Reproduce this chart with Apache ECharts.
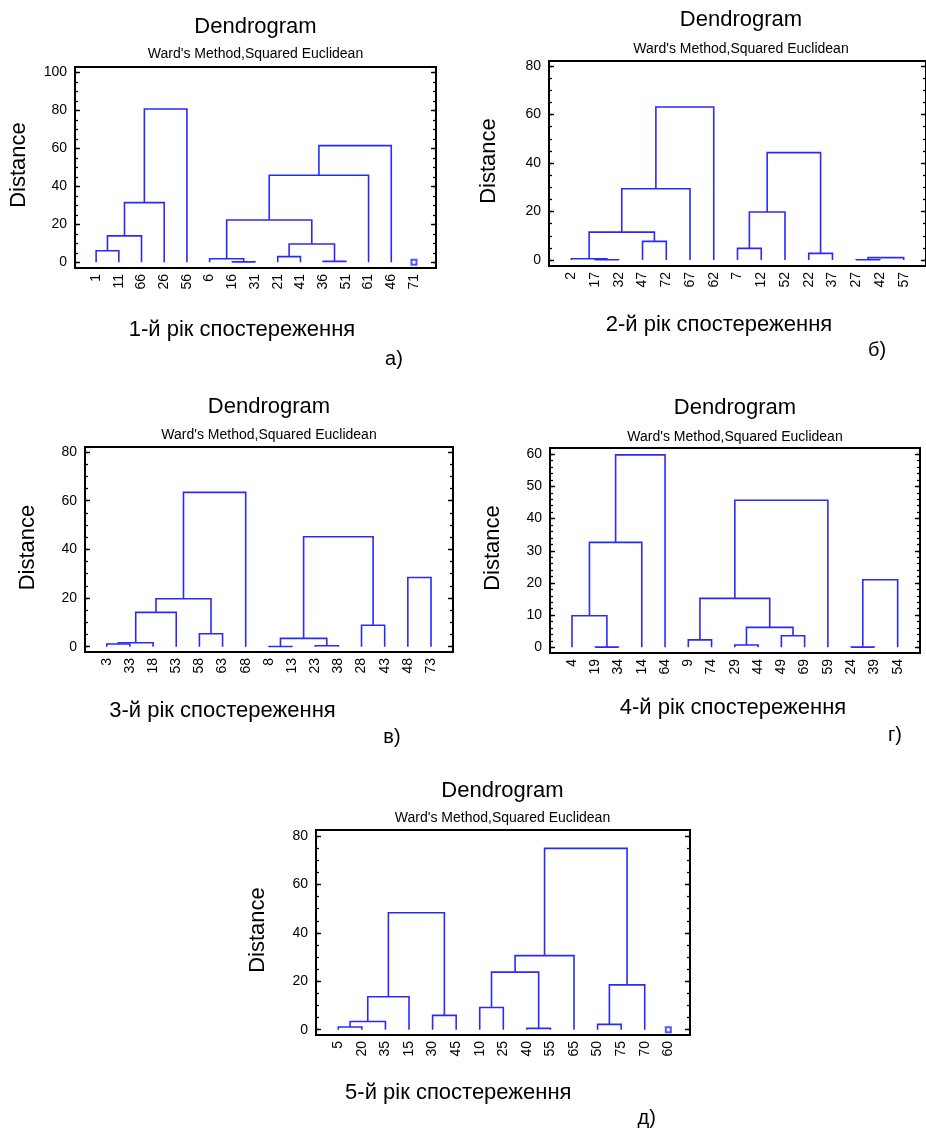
<!DOCTYPE html>
<html><head><meta charset="utf-8">
<script src="https://cdn.jsdelivr.net/npm/echarts@6/dist/echarts.min.js"></script>
<style>html,body{margin:0;padding:0;background:#fff}#c{width:926px;height:1128px}</style>
</head><body><div id="c"></div><script>
// ---------- DATA ----------
// merges: [childA, childB, distance]; ids 0..n-1 are leaves (in display order), then n, n+1, ... are merges in list order
const leavesA = ['1','11','66','26','56','6','16','31','21','41','36','51','61','46','71'];
const mergesA = [[0,1,6.1],[15,2,13.9],[16,3,31.4],[17,4,80.7],[6,7,0.2],[5,19,1.9],[8,9,3.0],[10,11,0.5],[21,22,9.6],[20,23,22.3],[24,12,45.8],[25,13,61.4]];
const singlesA = [14];
const yTicksA = [0,20,40,60,80,100];

const leavesB = ['2','17','32','47','72','67','62','7','12','52','22','37','27','42','57'];
const mergesB = [[1,2,0.1],[0,15,0.55],[3,4,7.7],[16,17,11.5],[18,5,29.4],[19,6,63.1],[7,8,4.8],[21,9,19.8],[10,11,2.75],[22,23,44.3],[12,13,0.1],[25,14,1.0]];
const singlesB = [];
const yTicksB = [0,20,40,60,80];

const leavesC = ['3','33','18','53','58','63','68','8','13','23','38','28','43','48','73'];
const mergesC = [[0,1,1.1],[15,2,1.6],[16,3,14.1],[4,5,5.3],[17,18,19.7],[19,6,63.4],[7,8,0.05],[9,10,0.4],[21,22,3.4],[11,12,8.8],[23,24,45.2],[13,14,28.4]];
const singlesC = [];
const yTicksC = [0,20,40,60,80];

const leavesD = ['4','19','34','14','64','9','74','29','44','49','69','59','24','39','54'];
const mergesD = [[1,2,0.05],[0,15,9.8],[16,3,32.6],[17,4,59.8],[5,6,2.3],[7,8,0.7],[9,10,3.6],[20,21,6.2],[19,22,15.2],[23,11,45.7],[12,13,0.05],[25,14,21.0]];
const singlesD = [];
const yTicksD = [0,10,20,30,40,50,60];

const leavesE = ['5','20','35','15','30','45','10','25','40','55','65','50','75','70','60'];
const mergesE = [[0,1,1.1],[15,2,3.4],[16,3,13.6],[4,5,5.9],[17,18,48.3],[6,7,9.2],[8,9,0.55],[20,21,23.8],[22,10,30.6],[11,12,2.2],[24,13,18.5],[23,25,74.9]];
const singlesE = [14];
const yTicksE = [0,20,40,60,80];

const titleText = 'Dendrogram';
const subText = "Ward's Method,Squared Euclidean";
const yName = 'Distance';
const xNames = ['1-й рік спостереження','2-й рік спостереження','3-й рік спостереження','4-й рік спостереження','5-й рік спостереження'];
const tags = ['а)','б)','в)','г)','д)'];

// ---------- LAYOUT / STYLE ----------
const LINE = '#2a2aff';
const FONT = '"Liberation Sans", Arial, sans-serif';
const panels = [
  {leaves:leavesA, merges:mergesA, singles:singlesA, ticks:yTicksA, minor:5,
   grid:{left:75, top:67, width:361, height:201}, yMin:-3.0, yMax:102.8, xMin:-0.93, xMax:14.97,
   title:[255.5,27], sub:[255.5,54], dist:[18.5,165], xname:[242,330], tag:[394,359]},
  {leaves:leavesB, merges:mergesB, singles:singlesB, ticks:yTicksB, minor:5,
   grid:{left:549, top:61, width:384, height:205}, yMin:-2.47, yMax:82.1, xMin:-0.94, xMax:14.94,
   title:[741,20], sub:[741,49], dist:[489,161], xname:[719,325], tag:[877,350]},
  {leaves:leavesC, merges:mergesC, singles:singlesC, ticks:yTicksC, minor:5,
   grid:{left:85, top:447, width:368, height:205}, yMin:-2.18, yMax:82.05, xMin:-0.94, xMax:14.95,
   title:[269,407], sub:[269,435], dist:[28,547.5], xname:[222.5,710.7], tag:[392,737]},
  {leaves:leavesD, merges:mergesD, singles:singlesD, ticks:yTicksD, minor:2,
   grid:{left:550, top:448, width:370, height:205}, yMin:-1.77, yMax:61.95, xMin:-0.946, xMax:14.96,
   title:[735,408], sub:[735,436.7], dist:[492.7,548], xname:[733,708], tag:[895,735]},
  {leaves:leavesE, merges:mergesE, singles:singlesE, ticks:yTicksE, minor:5,
   grid:{left:316, top:830, width:374, height:205}, yMin:-2.19, yMax:82.5, xMin:-0.946, xMax:14.92,
   title:[502.5,790.7], sub:[502.5,818.3], dist:[258.3,930], xname:[458.3,1093.3], tag:[646.7,1118]}
];

function buildLinks(leaves, merges) {
  const pos = leaves.map((_, i) => i), hgt = leaves.map(() => 0);
  const out = [];
  merges.forEach(([a, b, h]) => {
    out.push([pos[a], hgt[a], h, pos[b], hgt[b]]);
    pos.push((pos[a] + pos[b]) / 2); hgt.push(h);
  });
  return out;
}

const grids = [], xAxes = [], yAxes = [], series = [], graphics = [];
panels.forEach((p, i) => {
  grids.push(Object.assign({show:true, borderColor:'#000', borderWidth:2, backgroundColor:'transparent'}, p.grid));
  const idx = p.leaves.map((_, k) => k);
  xAxes.push({type:'value', gridIndex:i, min:p.xMin, max:p.xMax,
    axisLine:{show:false, onZero:false}, axisTick:{show:false}, splitLine:{show:false},
    axisLabel:{customValues:idx, formatter:v => p.leaves[Math.round(v)] || '', rotate:90, margin:6,
      fontSize:14, color:'#000', fontFamily:FONT}});
  const minorVals = [];
  for (let v = p.ticks[0]; v <= p.ticks[p.ticks.length-1] + 1e-9; v += p.minor) minorVals.push(v);
  const base = {type:'value', gridIndex:i, min:p.yMin, max:p.yMax, axisLine:{show:false, onZero:false}, splitLine:{show:false}};
  const y0 = yAxes.length;
  yAxes.push(Object.assign({}, base, {position:'left',
    axisLabel:{customValues:p.ticks, fontSize:14, color:'#000', fontFamily:FONT, margin:8},
    axisTick:{customValues:p.ticks, inside:true, length:5, lineStyle:{color:'#000', width:1.4}}}));
  yAxes.push(Object.assign({}, base, {position:'left', axisLabel:{show:false},
    axisTick:{customValues:minorVals, inside:true, length:3, lineStyle:{color:'#000', width:1.3}}}));
  yAxes.push(Object.assign({}, base, {position:'right', axisLabel:{show:false},
    axisTick:{customValues:p.ticks, inside:true, length:5, lineStyle:{color:'#000', width:1.4}}}));
  yAxes.push(Object.assign({}, base, {position:'right', axisLabel:{show:false},
    axisTick:{customValues:minorVals, inside:true, length:3, lineStyle:{color:'#000', width:1.3}}}));

  series.push({type:'custom', xAxisIndex:i, yAxisIndex:y0, clip:false, silent:true,
    data:buildLinks(p.leaves, p.merges),
    renderItem:(params, api) => {
      const pts = [[api.value(0), api.value(1)], [api.value(0), api.value(2)],
                   [api.value(3), api.value(2)], [api.value(3), api.value(4)]].map(d => api.coord(d));
      return {type:'polyline', shape:{points:pts}, style:{stroke:LINE, fill:null, lineWidth:1.6}};
    }});
  if (p.singles.length) {
    series.push({type:'scatter', xAxisIndex:i, yAxisIndex:y0, symbol:'emptyRect', symbolSize:5, silent:true,
      itemStyle:{color:LINE, borderColor:LINE, borderWidth:1.5},
      data:p.singles.map(k => [k, 0])});
  }
  const txt = (pos, text, size, rot) => graphics.push({type:'text', x:pos[0], y:pos[1], rotation:rot||0,
    style:{text, fontSize:size, fontFamily:FONT, fill:'#000', align:'center', verticalAlign:'middle'}});
  txt(p.title, titleText, 22);
  txt(p.sub, subText, 14);
  txt(p.dist, yName, 22, Math.PI/2);
  txt(p.xname, xNames[i], 22);
  txt(p.tag, tags[i], 20);
});

const chart = echarts.init(document.getElementById('c'), null, {renderer:'canvas'});
chart.setOption({animation:false, backgroundColor:'#fff', grid:grids, xAxis:xAxes, yAxis:yAxes, series, graphic:graphics});
</script></body></html>
